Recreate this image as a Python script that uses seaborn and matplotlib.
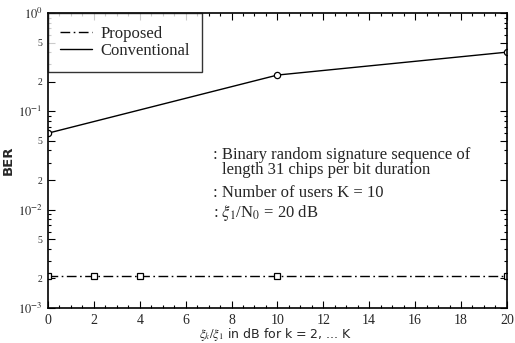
import numpy as np
import pandas as pd
import matplotlib
matplotlib.use('Agg')
import matplotlib.pyplot as plt
import seaborn as sns
from matplotlib.ticker import FixedLocator, NullFormatter

# data
snr_conv = [0, 10, 20]
ber_conv = [0.060, 0.234, 0.40]
snr_prop = [0, 2, 4, 10, 20]
ber_prop = [0.00211, 0.00211, 0.00211, 0.00211, 0.00211]

df = pd.concat([
    pd.DataFrame({'x': snr_prop, 'ber': ber_prop, 'scheme': 'Proposed'}),
    pd.DataFrame({'x': snr_conv, 'ber': ber_conv, 'scheme': 'Conventional'}),
])

sns.set_style('ticks')
plt.rcParams['font.family'] = ['Liberation Serif', 'DejaVu Serif']
plt.rcParams['mathtext.fontset'] = 'stix'

fig = plt.figure(figsize=(5.15, 3.43), dpi=100)
ax = fig.add_axes([0.0932, 0.102, 0.891, 0.860])

sns.lineplot(data=df[df.scheme == 'Proposed'], x='x', y='ber', ax=ax,
             color='black', lw=1.0, linestyle=(0, (7, 2.5, 1.2, 2.5)),
             marker='s', markersize=4.5, markerfacecolor='white',
             markeredgecolor='black', markeredgewidth=0.9, label='Proposed')
sns.lineplot(data=df[df.scheme == 'Conventional'], x='x', y='ber', ax=ax,
             color='black', lw=1.0, marker='o', markersize=4.5,
             markerfacecolor='white', markeredgecolor='black',
             markeredgewidth=0.9, label='Conventional')

ax.set_yscale('log')
ax.set_xlim(0, 20)
ax.set_ylim(1e-3, 1)
ax.set_xticks(range(0, 21, 2))
ax.xaxis.set_minor_locator(FixedLocator(np.arange(0, 20.1, 0.5)))

yt = [1e-3, 2e-3, 5e-3, 1e-2, 2e-2, 5e-2, 1e-1, 2e-1, 5e-1, 1]
ytl = [r'$10^{-3}$', '2', '5', r'$10^{-2}$', '2', '5', r'$10^{-1}$', '2', '5', r'$10^{0}$']
ax.set_yticks(yt)
ax.set_yticklabels(ytl)
for lab in ax.get_yticklabels():
    lab.set_fontsize(9 if '10' in lab.get_text() else 7)
minor = [m * 10.0 ** e for e in (-3, -2, -1) for m in (3, 4, 6, 7, 8, 9)]
ax.yaxis.set_minor_locator(FixedLocator(minor))
ax.yaxis.set_minor_formatter(NullFormatter())

ax.tick_params(which='both', direction='in', top=True, right=True,
               color='black', width=0.8)
ax.tick_params(axis='x', labelsize=10, pad=4)
ax.tick_params(axis='y', pad=4)
ax.tick_params(which='major', length=5)
ax.tick_params(which='minor', length=2.5)
for s in ax.spines.values():
    s.set_linewidth(1.2)
    s.set_color('black')

ax.set_xlabel(r'$\xi_k/\xi_1$ in dB for k = 2, ... K', family='DejaVu Sans',
              fontsize=9)
ax.xaxis.set_label_coords(0.497, -0.062)
ax.set_ylabel('BER', family='DejaVu Sans', fontsize=9.5, fontweight='bold')
ax.yaxis.set_label_coords(-0.072, 0.5)

leg = ax.legend(loc='upper left', frameon=True, fancybox=False, fontsize=12,
                borderaxespad=0, handlelength=1.9, handletextpad=0.5,
                borderpad=0.75, labelspacing=0.1)
leg.get_frame().set_edgecolor('black')
leg.get_frame().set_linewidth(1.0)
for h in leg.legend_handles:
    h.set_marker('')

notes = [(0.36, 0.519, ': Binary random signature sequence of'),
         (0.379, 0.468, 'length 31 chips per bit duration'),
         (0.36, 0.39, ': Number of users K = 10'),
         (0.36, 0.322, r': $\xi_1$/N$_0$ = 20 dB')]
for x, y, t in notes:
    ax.text(x, y, t, transform=ax.transAxes, fontsize=12, va='center')

fig.savefig('out.png', dpi=100)
